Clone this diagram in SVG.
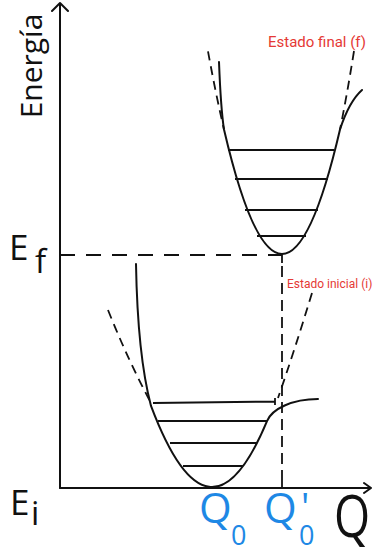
<svg xmlns="http://www.w3.org/2000/svg" width="376" height="554" viewBox="0 0 376 554">
  <style>
    .ln { fill: none; stroke: #111; stroke-width: 2; stroke-linecap: round; stroke-linejoin: round; }
    .lv { fill: none; stroke: #111; stroke-width: 1.8; stroke-linecap: butt; }
    .dc { fill: none; stroke: #111; stroke-width: 1.8; stroke-dasharray: 9 6; }
    .dg { fill: none; stroke: #111; stroke-width: 1.8; }
    .ax { font-family: "Open Sans", "DejaVu Sans", sans-serif; fill: #111; }
    .bl { font-family: "Open Sans", "DejaVu Sans", sans-serif; fill: #1e88e5; }
    .rd { font-family: Roboto, "Liberation Sans", sans-serif; fill: #e53935; }
  </style>
  <rect width="376" height="554" fill="#ffffff"/>

  <g id="axes">
    <path class="ln" d="M60,488 L60,3 M52,11 L60,3 L68,11"/>
    <path class="ln" d="M60,488 L371,488 M364,483 L371,488 L364,493"/>
    <text class="ax" font-size="30" transform="translate(42,66) rotate(-90)" text-anchor="middle">Energía</text>
    <text class="ax" font-size="35" x="9" y="260">E<tspan font-size="33" x="35" y="273">f</tspan></text>
    <text class="ax" font-size="35" x="10" y="515">E<tspan font-size="33" x="31" y="525">i</tspan></text>
    <text class="ax" font-size="58" transform="translate(334,537) scale(0.8,1)">Q</text>
    <text class="bl" font-size="42" x="199" y="523">Q<tspan font-size="27" x="231" y="545">0</tspan></text>
    <text class="bl" font-size="42" x="264" y="523">Q<tspan font-size="27" x="299" y="545">0</tspan><tspan font-size="38" x="301" y="521">'</tspan></text>
  </g>

  <g id="estado-final">
    <path class="ln" d="M219,62 C220,88 221,110 224,129.5 Q282,378.5 340,129.5 C345,114 352,99 362,90"/>
    <path class="dc" d="M208,51.4 Q216,95.2 224,129.5"/>
    <path class="dc" d="M354,51 Q347,95 340,129.5"/>
    <path class="lv" d="M228,150 L334,150 M235,179 L328,179 M245,210 L318,210 M257,236 L306,236"/>
    <text class="rd" font-size="15" x="268" y="47">Estado final (f)</text>
  </g>

  <g id="estado-inicial">
    <path class="ln" d="M136,264 C137,320 142,372 151,405.9 Q209,560.2 267,421.1 C272,409 292,399 318,399"/>
    <path class="dc" d="M108,310 Q128,360 151,403"/>
    <path class="dc" d="M312,293 Q294,352 278,398"/>
    <path class="lv" d="M153,403 L275,401.5 M275,398 L275,405 M158,421 L267,421 M170,443 L257,443 M183,466 L243,466"/>
    <text class="rd" font-size="12" x="287" y="288">Estado inicial (i)</text>
  </g>

  <g id="connectors">
    <path class="dg" stroke-dasharray="15 11" d="M60,255 L282,255"/>
    <path class="dg" d="M282,254 L282,263"/>
    <path class="dg" stroke-dasharray="11 6" d="M282,266 L282,478"/>
    <path class="dg" d="M282,478 L282,488"/>
  </g>
</svg>
